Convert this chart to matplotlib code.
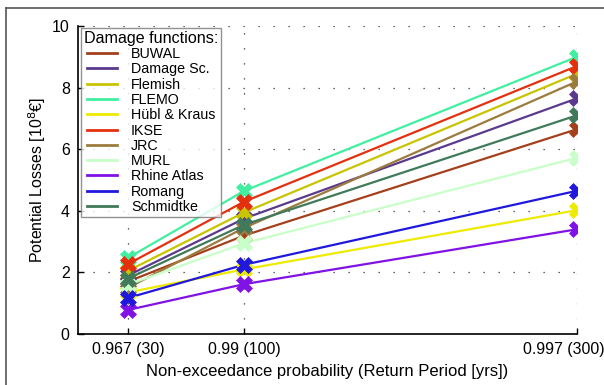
import matplotlib
matplotlib.use("Agg")
import matplotlib.pyplot as plt
from matplotlib.lines import Line2D

plt.rcParams['font.family'] = ['Liberation Sans', 'DejaVu Sans']

return_periods = [30, 100, 300]
tick_labels = ["0.967 (30)", "0.99 (100)", "0.997 (300)"]

names = ["BUWAL", "Damage Sc.", "Flemish", "FLEMO", "Hübl & Kraus", "IKSE",
         "JRC", "MURL", "Rhine Atlas", "Romang", "Schmidtke"]
colors = ["#A4401C", "#5B3A8E", "#C9C400", "#40F0A0", "#EEEA00", "#E5300E",
          "#9C7B3E", "#C8FFC8", "#8012E6", "#2018DC", "#407A5A"]

buwal = [1.70, 3.20, 6.65]
damage_sc = [1.90, 3.75, 7.65]
flemish = [2.05, 3.95, 8.45]
flemo = [2.47, 4.65, 9.00]
huebl = [1.35, 2.10, 4.02]
ikse = [2.27, 4.30, 8.70]
jrc = [1.50, 3.45, 8.20]
murl = [1.60, 2.95, 5.72]
rhine = [0.78, 1.62, 3.40]
romang = [1.17, 2.25, 4.65]
schmidtke = [1.80, 3.55, 7.10]

series = [buwal, damage_sc, flemish, flemo, huebl, ikse, jrc, murl, rhine,
          romang, schmidtke]

fig = plt.figure(figsize=(6.04, 3.85), dpi=100)
ax = fig.add_axes([78 / 604, 1 - 334 / 385, (577 - 78) / 604, (334 - 26) / 385])

for vals, c in zip(series, colors):
    ax.plot(return_periods, vals, color=c, lw=1.6, zorder=3)
for vals, c in zip(series, colors):
    ax.plot(return_periods, vals, ls='none', marker='X', ms=11, mfc=c,
            mec=c, mew=0.5, zorder=4)

ax.set_xlim(0, 300)
ax.set_ylim(0, 10)
ax.set_xticks(return_periods)
# last label is drawn separately (shifted left to fit inside the figure)
ax.set_xticklabels(tick_labels[:-1] + [""], fontsize=11.4)
ax.annotate(tick_labels[-1], xy=(return_periods[-1], 0),
            xycoords=('data', 'axes fraction'), xytext=(-9.8, -6),
            textcoords='offset points', ha='center', va='top', fontsize=11.4)
ax.set_yticks([0, 2, 4, 6, 8, 10])
ax.tick_params(axis='y', labelsize=11.4)
ax.tick_params(direction='in', length=4, width=1, pad=6)
for s in ['top', 'right']:
    ax.spines[s].set_visible(False)
for s in ['left', 'bottom']:
    ax.spines[s].set_linewidth(1.2)

ax.grid(True, color='#333333', lw=0.9, ls=(0, (1, 11)), zorder=1)
ax.set_axisbelow(True)

ax.set_xlabel("Non-exceedance probability (Return Period [yrs])", fontsize=12, labelpad=5)
ax.set_ylabel("Potential Losses [10$^8$€]", fontsize=11.5, labelpad=3)

handles = [Line2D([], [], color=c, lw=2) for c in colors]
leg = ax.legend(handles, names, loc='upper left', title="Damage functions:",
                fontsize=10.3, title_fontsize=11.6, frameon=True, fancybox=False,
                edgecolor='#777777', handlelength=2.1, handletextpad=1.0,
                labelspacing=0.09, borderpad=0.2, borderaxespad=0,
                bbox_to_anchor=(0.006, 0.9935))
leg.get_frame().set_linewidth(1.0)
leg.set_zorder(10)

# outer figure frame (left and top edges visible)
fig.add_artist(Line2D([6 / 604, 6 / 604], [0, 1 - 8 / 385], transform=fig.transFigure,
                      color='#555555', lw=1.2))
fig.add_artist(Line2D([6 / 604, 1], [1 - 8 / 385, 1 - 8 / 385], transform=fig.transFigure,
                      color='#555555', lw=1.2))

fig.savefig("out.png", dpi=100)
